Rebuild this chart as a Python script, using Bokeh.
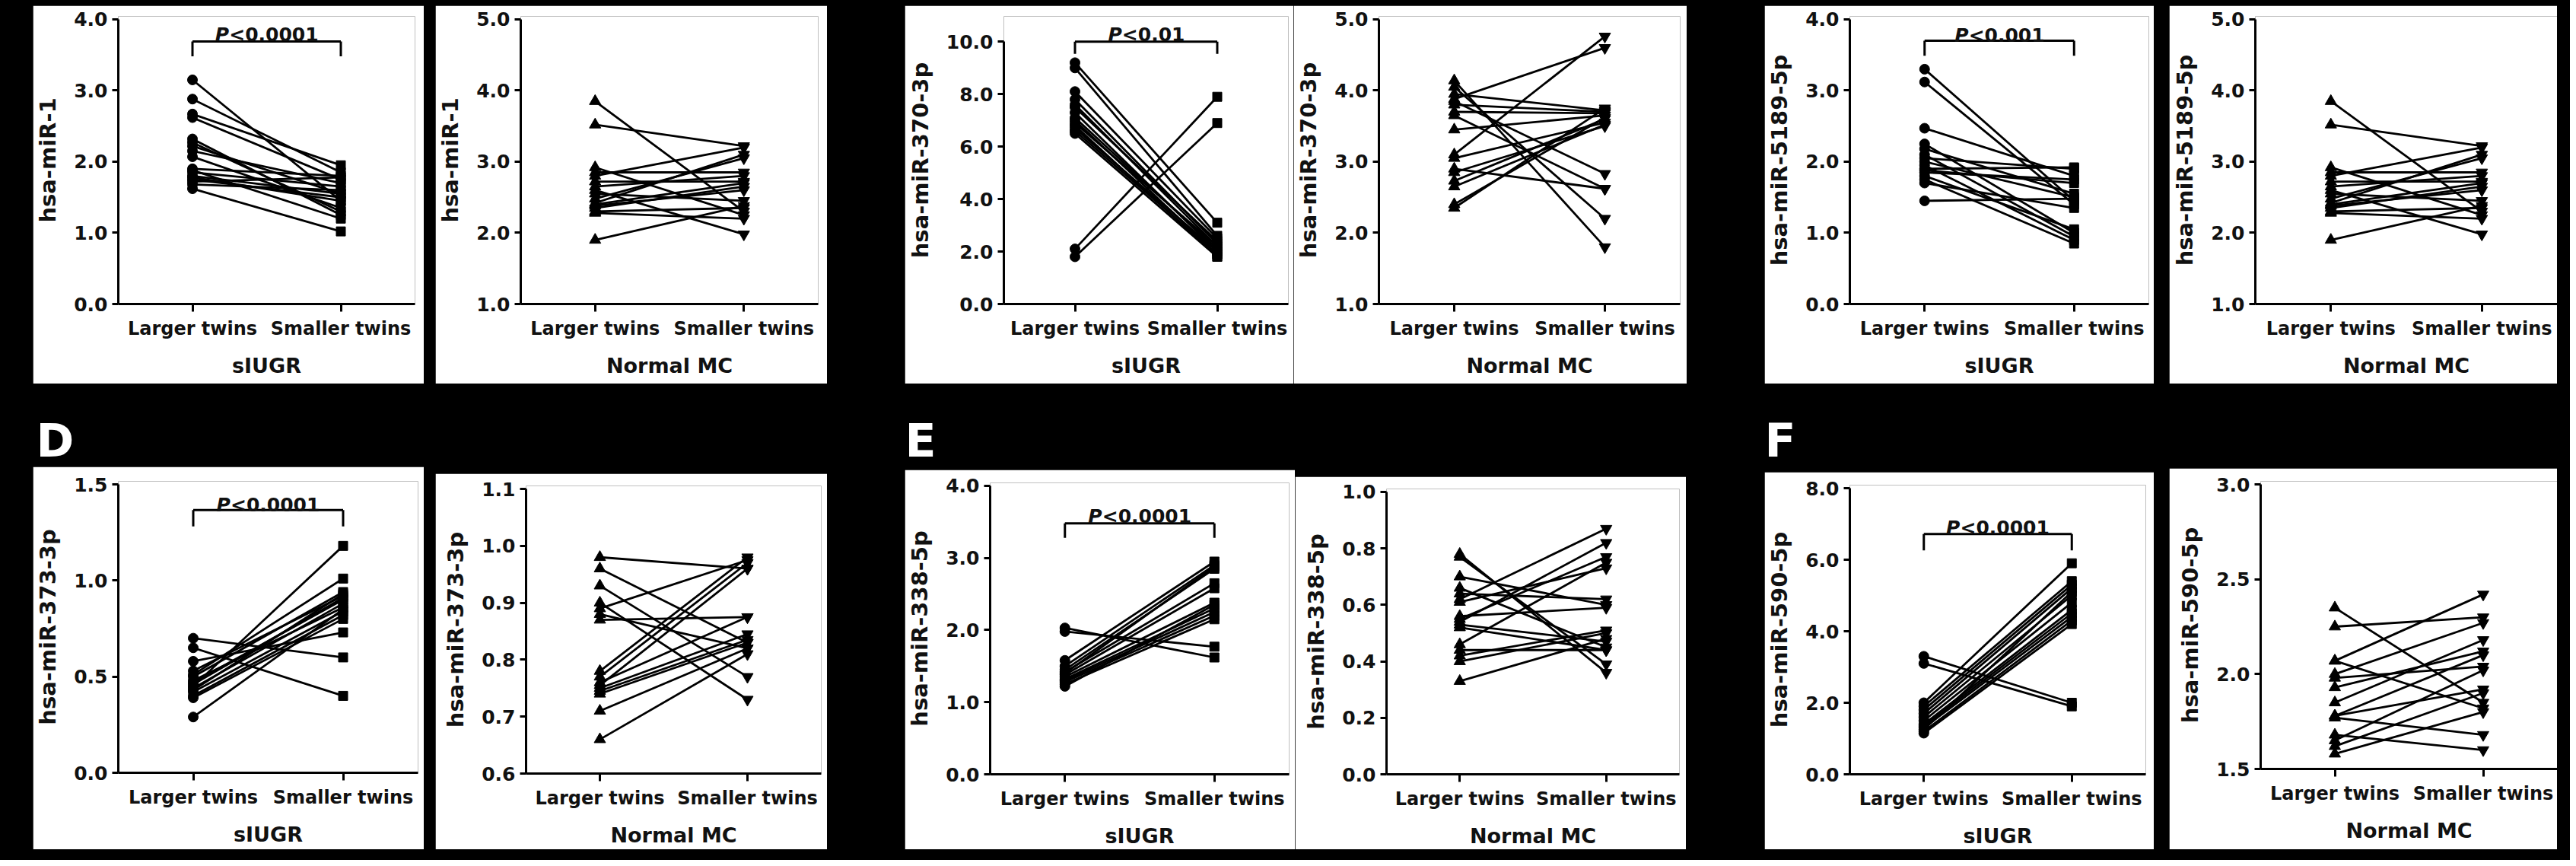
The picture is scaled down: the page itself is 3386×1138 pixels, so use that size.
from bokeh.plotting import figure
from bokeh.models import FactorRange, Range1d, FixedTicker, Spacer, NumeralTickFormatter
from bokeh.layouts import row, column
from bokeh.core.properties import value
from bokeh.embed import file_html
from bokeh.resources import INLINE

FONT = "DejaVu Sans"

# ---------------- data ----------------
groups = ["Larger twins", "Smaller twins"]

# hsa-miR-1
A_larger = [3.15, 2.88, 2.67, 2.62, 2.32, 2.27, 2.22, 2.15, 2.07, 1.90, 1.88, 1.85, 1.80, 1.78, 1.75, 1.72, 1.68, 1.62]
A_smaller = [1.45, 1.85, 1.95, 1.75, 1.25, 1.30, 1.55, 1.70, 1.35, 1.80, 1.20, 1.65, 1.55, 1.45, 1.50, 1.78, 1.60, 1.02]
N1_larger = [3.85, 3.52, 2.92, 2.85, 2.80, 2.72, 2.65, 2.60, 2.55, 2.48, 2.42, 2.40, 2.38, 2.35, 2.30, 2.28, 1.90]
N1_smaller = [2.30, 3.22, 2.25, 2.85, 3.20, 2.72, 2.80, 1.98, 2.45, 3.05, 3.10, 2.70, 2.60, 2.65, 2.35, 2.20, 2.38]

# hsa-miR-370-3p
B_larger = [9.2, 9.0, 8.1, 7.8, 7.6, 7.5, 7.3, 7.1, 7.0, 6.9, 6.8, 6.7, 6.6, 6.5, 2.1, 1.8]
B_smaller = [3.1, 2.6, 2.5, 2.3, 2.2, 2.4, 2.0, 2.1, 1.9, 2.2, 1.8, 2.0, 1.9, 1.8, 7.9, 6.9]
B2_larger = [4.14, 4.05, 3.95, 3.88, 3.85, 3.80, 3.70, 3.65, 3.45, 3.10, 3.05, 2.90, 2.85, 2.73, 2.65, 2.40, 2.35]
B2_smaller = [1.80, 2.20, 3.72, 4.60, 2.83, 3.70, 3.68, 2.62, 3.65, 4.76, 3.55, 2.62, 3.50, 3.60, 3.52, 3.62, 3.75]

# hsa-miR-5189-5p
C_larger = [3.30, 3.12, 2.47, 2.25, 2.18, 2.10, 2.05, 2.00, 1.95, 1.90, 1.88, 1.85, 1.80, 1.75, 1.70, 1.45]
C_smaller = [1.45, 1.40, 1.80, 1.00, 1.55, 0.95, 1.90, 1.50, 0.90, 1.92, 1.70, 1.75, 1.05, 0.85, 1.35, 1.48]

# hsa-miR-373-3p
D_larger = [0.70, 0.65, 0.58, 0.53, 0.51, 0.50, 0.48, 0.47, 0.46, 0.45, 0.44, 0.43, 0.42, 0.40, 0.39, 0.29]
D_smaller = [0.60, 0.40, 0.73, 0.92, 1.01, 0.94, 0.86, 0.90, 0.91, 1.18, 0.88, 0.93, 0.84, 0.82, 0.80, 0.85]
D2_larger = [0.98, 0.96, 0.93, 0.90, 0.89, 0.88, 0.87, 0.78, 0.77, 0.76, 0.755, 0.75, 0.745, 0.74, 0.71, 0.66]
D2_smaller = [0.96, 0.83, 0.77, 0.73, 0.975, 0.82, 0.875, 0.98, 0.97, 0.875, 0.96, 0.845, 0.835, 0.83, 0.82, 0.81]

# hsa-miR-338-5p
E_larger = [2.03, 1.98, 1.58, 1.50, 1.45, 1.42, 1.40, 1.38, 1.35, 1.32, 1.30, 1.28, 1.25, 1.22]
E_smaller = [1.62, 1.77, 2.95, 2.90, 2.85, 2.65, 2.88, 2.58, 2.38, 2.30, 2.25, 2.20, 2.15, 2.35]
E2_larger = [0.78, 0.77, 0.70, 0.66, 0.64, 0.62, 0.61, 0.56, 0.55, 0.54, 0.53, 0.52, 0.46, 0.44, 0.42, 0.40, 0.33]
E2_smaller = [0.36, 0.39, 0.60, 0.45, 0.62, 0.87, 0.73, 0.59, 0.77, 0.82, 0.47, 0.44, 0.75, 0.44, 0.51, 0.50, 0.48]

# hsa-miR-590-5p
F_larger = [3.30, 3.10, 2.00, 1.90, 1.80, 1.70, 1.60, 1.50, 1.40, 1.35, 1.30, 1.25, 1.20, 1.15]
F_smaller = [2.00, 1.90, 5.90, 5.40, 5.30, 5.20, 5.00, 4.80, 4.60, 4.50, 4.40, 5.10, 4.30, 4.20]
F2_larger = [2.35, 2.25, 2.07, 2.07, 2.00, 1.98, 1.93, 1.85, 1.78, 1.78, 1.77, 1.68, 1.65, 1.62, 1.58]
F2_smaller = [1.85, 2.30, 2.42, 1.82, 2.27, 2.04, 2.12, 2.18, 2.10, 1.92, 1.68, 1.60, 2.02, 1.90, 1.80]

# y tick values
ticks_0_4 = [0, 1, 2, 3, 4]
ticks_1_5 = [1, 2, 3, 4, 5]
ticks_0_10 = [0, 2, 4, 6, 8, 10]
ticks_0_15 = [0, 0.5, 1.0, 1.5]
ticks_06_11 = [0.6, 0.7, 0.8, 0.9, 1.0, 1.1]
ticks_0_1 = [0, 0.2, 0.4, 0.6, 0.8, 1.0]
ticks_0_8 = [0, 2, 4, 6, 8]
ticks_15_3 = [1.5, 2.0, 2.5, 3.0]

panel_letters = ["D", "E", "F"]

# ---------------- panels (layout in reference pixels) ----------------
SIUGR = ("circle", "square", "sIUGR")
NORMAL = ("triangle", "inverted_triangle", "Normal MC")

row1 = [
    dict(box=(51, 15, 565, 512), fx=(162, 553), fy=(409, 33), ftop=29, ticks=ticks_0_4, ylabel="hsa-miR-1",
         kind=SIUGR, data=(A_larger, A_smaller), p="<0.0001", br=(3.69, 3.48, 3.79)),
    dict(box=(580, 15, 1095, 512), fx=(691, 1083), fy=(407, 32), ticks=ticks_1_5, ylabel="hsa-miR-1",
         kind=NORMAL, data=(N1_larger, N1_smaller)),
    dict(box=(1197, 15, 1708, 512), fx=(1325, 1701), fy=(414, 52), ftop=17, ticks=ticks_0_10, ylabel="hsa-miR-370-3p",
         kind=SIUGR, data=(B_larger, B_smaller), p="<0.01", br=(10.0, 9.54, 10.28)),
    dict(box=(1708, 15, 2225, 512), fx=(1819, 2216), fy=(412, 30), ticks=ticks_1_5, ylabel="hsa-miR-370-3p",
         kind=NORMAL, data=(B2_larger, B2_smaller)),
    dict(box=(2327, 15, 2839, 512), fx=(2437, 2832), fy=(410, 32), ftop=28, ticks=ticks_0_4, ylabel="hsa-miR-5189-5p",
         kind=SIUGR, data=(C_larger, C_smaller), p="<0.001", br=(3.70, 3.49, 3.77)),
    dict(box=(2859, 15, 3369, 512), fx=(2972, 3369), fy=(411, 32), ticks=ticks_1_5, ylabel="hsa-miR-5189-5p",
         kind=NORMAL, data=(N1_larger, N1_smaller)),
]
row2 = [
    dict(box=(51, 621, 565, 1124), fx=(163, 557), fy=(1023, 644), ticks=ticks_0_15, ylabel="hsa-miR-373-3p",
         kind=SIUGR, data=(D_larger, D_smaller), p="<0.0001", br=(1.366, 1.281, 1.395)),
    dict(box=(580, 630, 1095, 1124), fx=(699, 1087), fy=(1024, 650), ticks=ticks_06_11, ylabel="hsa-miR-373-3p",
         kind=NORMAL, data=(D2_larger, D2_smaller)),
    dict(box=(1197, 625, 1710, 1124), fx=(1308, 1702), fy=(1026, 646), ticks=ticks_0_4, ylabel="hsa-miR-338-5p",
         kind=SIUGR, data=(E_larger, E_smaller), p="<0.0001", br=(3.48, 3.28, 3.58)),
    dict(box=(1710, 634, 2224, 1124), fx=(1830, 2215), fy=(1027, 654), ticks=ticks_0_1, ylabel="hsa-miR-338-5p",
         kind=NORMAL, data=(E2_larger, E2_smaller)),
    dict(box=(2327, 628, 2839, 1124), fx=(2439, 2828), fy=(1025, 649), ticks=ticks_0_8, ylabel="hsa-miR-590-5p",
         kind=SIUGR, data=(F_larger, F_smaller), p="<0.0001", br=(6.72, 6.26, 6.89)),
    dict(box=(2859, 623, 3369, 1124), fx=(2979, 3369), fy=(1018, 644), ticks=ticks_15_3, ylabel="hsa-miR-590-5p",
         kind=NORMAL, data=(F2_larger, F2_smaller)),
]

CW = {"<": 0.838, "0": 0.696, ".": 0.380, "1": 0.696, "P": 0.733}
PSIZE = 25


def make_panel(s):
    x0, y0, x1, y1 = s["box"]
    fx0, fx1 = s["fx"]
    ylo_px, yhi_px = s["fy"]
    ticks = s["ticks"]
    lo, hi = ticks[0], ticks[-1]
    ppu = (ylo_px - yhi_px) / (hi - lo)
    ftop = s.get("ftop", yhi_px - 4)
    y_end = hi + (yhi_px - ftop) / ppu
    p = figure(width=x1 - x0, height=y1 - y0, x_range=FactorRange(factors=groups),
               y_range=Range1d(lo, y_end), output_backend="svg", toolbar_location=None,
               min_border_left=fx0 - x0, min_border_right=x1 - fx1,
               min_border_top=ftop - y0, min_border_bottom=y1 - ylo_px)
    p.outline_line_color = None
    p.background_fill_color = "white"
    p.border_fill_color = "white"
    p.grid.visible = False

    ya = p.yaxis[0]
    ya.ticker = FixedTicker(ticks=ticks)
    ya.formatter = NumeralTickFormatter(format="0.0")
    ya.bounds = (lo, hi)
    ya.minor_tick_line_color = None
    ya.axis_line_width = 3
    ya.major_tick_line_width = 3
    ya.major_tick_out = 8
    ya.major_tick_in = 0
    ya.major_label_standoff = 6
    ya.major_label_text_font = FONT
    ya.major_label_text_font_style = "bold"
    ya.major_label_text_font_size = "25px"
    ya.major_label_text_color = "#111111"
    ya.axis_label = s["ylabel"]
    ya.axis_label_text_font = FONT
    ya.axis_label_text_font_style = "bold"
    ya.axis_label_text_font_size = "29px"
    ya.axis_label_text_color = "#111111"
    ya.axis_label_standoff = 14

    m1, m2, xlabel = s["kind"]
    xa = p.xaxis[0]
    xa.axis_line_width = 3
    xa.major_tick_line_width = 3
    xa.major_tick_out = 10
    xa.major_tick_in = 0
    xa.major_label_standoff = 8
    xa.major_label_text_font = FONT
    xa.major_label_text_font_style = "bold"
    xa.major_label_text_font_size = "24px"
    xa.major_label_text_color = "#111111"
    xa.axis_label = xlabel
    xa.axis_label_text_font = FONT
    xa.axis_label_text_font_style = "bold"
    xa.axis_label_text_font_size = "27px"
    xa.axis_label_text_color = "#111111"
    xa.axis_label_standoff = 16

    larger, smaller = s["data"]
    n = len(larger)
    gl = [groups[0]] * n
    gs = [groups[1]] * n
    p.segment(x0=gl, y0=larger, x1=gs, y1=smaller, line_color="black", line_width=2.8)
    p.scatter(x=gl, y=larger, marker=m1, size=13 if m1 == "circle" else 15, color="black")
    p.scatter(x=gs, y=smaller, marker=m2, size=12 if m2 == "square" else 15, color="black")

    if "p" in s:
        yt, yl, ytxt = s["br"]
        p.segment(x0=[groups[0], groups[0], groups[1]], y0=[yt, yt, yt],
                  x1=[groups[1], groups[0], groups[1]], y1=[yt, yl, yl],
                  line_color="black", line_width=3)
        rest = s["p"]
        pw = CW["P"] * PSIZE
        rw = sum(CW[c] for c in rest) * PSIZE
        half = (fx1 - fx0) / 4.0
        split = half - (pw + rw) / 2.0 + pw
        p.text(x=[groups[0]], y=[ytxt], text=["P"], x_offset=split, text_align="right",
               text_baseline="alphabetic", text_font=value(FONT), text_font_style="bold italic",
               text_font_size=f"{PSIZE}px", text_color="#111111")
        p.text(x=[groups[0]], y=[ytxt], text=[rest], x_offset=split, text_align="left",
               text_baseline="alphabetic", text_font=value(FONT), text_font_style="bold",
               text_font_size=f"{PSIZE}px", text_color="#111111")
    return p


ORIGIN = 8
TOTAL_W = 3370


def build_row(specs, top, stagger):
    kids = []
    cur = ORIGIN
    for s in specs:
        x0, y0, x1, y1 = s["box"]
        if x0 > cur:
            kids.append(Spacer(width=x0 - cur, height=10))
        fig = make_panel(s)
        if stagger and y0 > top:
            kids.append(column(Spacer(width=x1 - x0, height=y0 - top), fig))
        else:
            kids.append(fig)
        cur = x1
    if ORIGIN + TOTAL_W > cur:
        kids.append(Spacer(width=ORIGIN + TOTAL_W - cur, height=10))
    return row(*kids)


r1 = build_row(row1, 15, False)
r2 = build_row(row2, 621, True)

# strip with the panel letters between the two rows (y measured upward from the strip bottom)
STRIP_H = 621 - 512
strip = figure(width=TOTAL_W, height=STRIP_H, x_range=Range1d(0, TOTAL_W), y_range=Range1d(0, STRIP_H),
               x_axis_type=None, y_axis_type=None, min_border=0, output_backend="svg",
               toolbar_location=None)
strip.background_fill_color = "black"
strip.border_fill_color = "black"
strip.outline_line_color = None
strip.grid.visible = False
letter_x = [55 - ORIGIN, 1197 - ORIGIN, 2327 - ORIGIN]
letter_y = [STRIP_H - (586 - 512)] * 3
strip.text(x=letter_x, y=letter_y, text=panel_letters, text_font=value(FONT), text_font_style="bold",
           text_font_size="60px", text_color="white", text_baseline="middle", text_align="left")

root = column(
    Spacer(width=TOTAL_W, height=15 - ORIGIN),
    r1,
    strip,
    r2,
    Spacer(width=TOTAL_W, height=6),
    styles={"background-color": "black", "box-shadow": "0 0 0 8px black"},
)

open("out.html", "w").write(file_html(root, INLINE))
